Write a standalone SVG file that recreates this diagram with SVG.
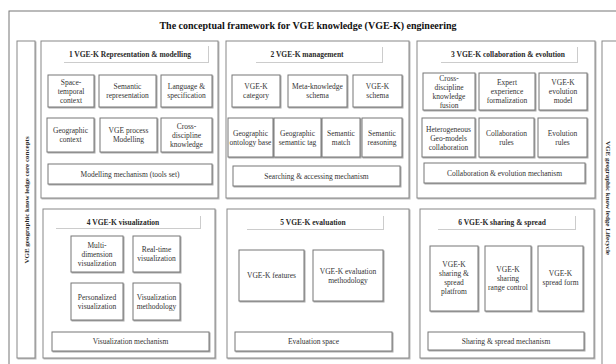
<svg xmlns="http://www.w3.org/2000/svg" width="616" height="364" viewBox="0 0 616 364">
<defs>
<style>
text{font-family:"Liberation Serif","Times New Roman",serif;fill:#2a2a2a;text-anchor:middle}
.t{font-size:10px;font-weight:bold;fill:#111}
.h{font-size:7.5px;font-weight:bold}
.b{font-size:7.5px;fill:#333}
.v{font-size:7px;font-weight:bold}
.frame{fill:none;stroke:#777;stroke-width:1}
.panel{fill:#fff;stroke:#888;stroke-width:1;filter:drop-shadow(1px 1px 0.6px #bbb)}
.box{fill:#fff;stroke:#777;stroke-width:1;filter:drop-shadow(1px 1px 0.6px #aaa)}
.hdr{fill:#fff;stroke:none;filter:drop-shadow(1px 1px 0.4px #ccc)}
</style>
</defs>
<rect x="0" y="0" width="616" height="364" fill="#fff"/>
<rect class="frame" x="9" y="11" width="640" height="380"/>
<text class="t" x="308" y="29">The conceptual framework for VGE knowledge (VGE-K) engineering</text>

<g id="core-concepts">
<rect class="panel" x="17" y="41" width="18" height="317"/>
<text class="v" transform="translate(28.5,200) rotate(-90)">VGE geographic know ledge  core concepts</text>
</g>
<g id="lifecycle">
<rect class="panel" x="602" y="41" width="30" height="330"/>
<text class="v" transform="translate(606,198) rotate(90)">VGE geographic know ledge  Lifecycle</text>
</g>

<g id="p1">
<rect class="panel" x="41" y="41" width="177" height="157"/>
<rect class="hdr" x="63" y="45" width="145" height="17"/>
<text class="h" x="130" y="57">1 VGE-K Representation &amp; modelling</text>
<g id="p1-space"><rect class="box" x="48" y="75" width="46" height="32"/><text class="b" x="71" y="84.6">Space-<tspan x="71" dy="9">temporal</tspan><tspan x="71" dy="9">context</tspan></text></g>
<g id="p1-sem"><rect class="box" x="99" y="75" width="57" height="32"/><text class="b" x="127.5" y="89.1">Semantic<tspan x="127.5" dy="9">representation</tspan></text></g>
<g id="p1-lang"><rect class="box" x="161" y="75" width="51" height="32"/><text class="b" x="186.5" y="89.1">Language &amp;<tspan x="186.5" dy="9">specification</tspan></text></g>
<g id="p1-geo"><rect class="box" x="47" y="118" width="47" height="34"/><text class="b" x="70.5" y="133.1">Geographic<tspan x="70.5" dy="9">context</tspan></text></g>
<g id="p1-proc"><rect class="box" x="100" y="118" width="57" height="34"/><text class="b" x="128.5" y="133.1">VGE process<tspan x="128.5" dy="9">Modelling</tspan></text></g>
<g id="p1-cross"><rect class="box" x="161" y="118" width="51" height="34"/><text class="b" x="186.5" y="128.6">Cross-<tspan x="186.5" dy="9">discipline</tspan><tspan x="186.5" dy="9">knowledge</tspan></text></g>
<g id="p1-mech"><rect class="box" x="48" y="164" width="164" height="20"/><text class="b" x="130" y="176.6">Modelling mechanism (tools set)</text></g>
</g>

<g id="p2">
<rect class="panel" x="226" y="41" width="183" height="157"/>
<rect class="hdr" x="255" y="46" width="127" height="16"/>
<text class="h" x="307" y="57">2 VGE-K management</text>
<g id="p2-cat"><rect class="box" x="232" y="75" width="48" height="32"/><text class="b" x="256" y="89.1">VGE-K<tspan x="256" dy="9">category</tspan></text></g>
<g id="p2-meta"><rect class="box" x="288" y="75" width="59" height="32"/><text class="b" x="317.5" y="89.1">Meta-knowledge<tspan x="317.5" dy="9">schema</tspan></text></g>
<g id="p2-schema"><rect class="box" x="353" y="75" width="49" height="32"/><text class="b" x="377.5" y="89.1">VGE-K<tspan x="377.5" dy="9">schema</tspan></text></g>
<g id="p2-onto"><rect class="box" x="228" y="118" width="45" height="39"/><text class="b" x="250.5" y="136.1">Geographic<tspan x="250.5" dy="9">ontology base</tspan></text></g>
<g id="p2-tag"><rect class="box" x="274" y="118" width="47" height="39"/><text class="b" x="297.5" y="136.1">Geographic<tspan x="297.5" dy="9">semantic tag</tspan></text></g>
<g id="p2-match"><rect class="box" x="322" y="118" width="38" height="39"/><text class="b" x="341" y="136.1">Semantic<tspan x="341" dy="9">match</tspan></text></g>
<g id="p2-reason"><rect class="box" x="362" y="118" width="40" height="39"/><text class="b" x="382" y="136.1">Semantic<tspan x="382" dy="9">reasoning</tspan></text></g>
<g id="p2-mech"><rect class="box" x="233" y="166" width="167" height="20"/><text class="b" x="316.5" y="178.6">Searching &amp; accessing mechanism</text></g>
</g>

<g id="p3">
<rect class="panel" x="417" y="41" width="178" height="157"/>
<rect class="hdr" x="440" y="46" width="137" height="16"/>
<text class="h" x="508" y="57">3 VGE-K collaboration &amp; evolution</text>
<g id="p3-fusion"><rect class="box" x="423" y="73" width="52" height="37"/><text class="b" x="449" y="80.6">Cross-<tspan x="449" dy="9">discipline</tspan><tspan x="449" dy="9">knowledge</tspan><tspan x="449" dy="9">fusion</tspan></text></g>
<g id="p3-expert"><rect class="box" x="479" y="73" width="56" height="37"/><text class="b" x="507" y="85.1">Expert<tspan x="507" dy="9">experience</tspan><tspan x="507" dy="9">formalization</tspan></text></g>
<g id="p3-evo"><rect class="box" x="539" y="73" width="48" height="37"/><text class="b" x="563" y="85.1">VGE-K<tspan x="563" dy="9">evolution</tspan><tspan x="563" dy="9">model</tspan></text></g>
<g id="p3-het"><rect class="box" x="422" y="118" width="53" height="39"/><text class="b" x="448.5" y="131.6">Heterogeneous<tspan x="448.5" dy="9">Geo-models</tspan><tspan x="448.5" dy="9">collaboration</tspan></text></g>
<g id="p3-collab"><rect class="box" x="479" y="118" width="55" height="39"/><text class="b" x="506.5" y="136.1">Collaboration<tspan x="506.5" dy="9">rules</tspan></text></g>
<g id="p3-evrules"><rect class="box" x="538" y="118" width="49" height="39"/><text class="b" x="562.5" y="136.1">Evolution<tspan x="562.5" dy="9">rules</tspan></text></g>
<g id="p3-mech"><rect class="box" x="424" y="163" width="161" height="20"/><text class="b" x="504.5" y="175.6">Collaboration &amp; evolution mechanism</text></g>
</g>

<g id="p4">
<rect class="panel" x="43" y="209" width="172" height="149"/>
<rect class="hdr" x="55" y="215" width="145" height="13"/>
<text class="h" x="123" y="224.5">4 VGE-K  visualization</text>
<g id="p4-multi"><rect class="box" x="71" y="236" width="52" height="36"/><text class="b" x="97" y="247.6">Multi-<tspan x="97" dy="9">dimension</tspan><tspan x="97" dy="9">visualization</tspan></text></g>
<g id="p4-real"><rect class="box" x="133" y="236" width="47" height="36"/><text class="b" x="156.5" y="252.1">Real-time<tspan x="156.5" dy="9">visualization</tspan></text></g>
<g id="p4-pers"><rect class="box" x="71" y="283" width="52" height="37"/><text class="b" x="97" y="299.6">Personalized<tspan x="97" dy="9">visualization</tspan></text></g>
<g id="p4-meth"><rect class="box" x="133" y="283" width="47" height="37"/><text class="b" x="156.5" y="299.6">Visualization<tspan x="156.5" dy="9">methodology</tspan></text></g>
<g id="p4-mech"><rect class="box" x="52" y="332" width="157" height="19"/><text class="b" x="130.5" y="344.1">Visualization mechanism</text></g>
</g>

<g id="p5">
<rect class="panel" x="227" y="209" width="182" height="149"/>
<rect class="hdr" x="246" y="215" width="137" height="14"/>
<text class="h" x="313" y="224.5">5 VGE-K  evaluation</text>
<g id="p5-feat"><rect class="box" x="239" y="250" width="65" height="51"/><text class="b" x="271.5" y="278.1">VGE-K features</text></g>
<g id="p5-meth"><rect class="box" x="313" y="250" width="70" height="51"/><text class="b" x="348" y="273.6">VGE-K evaluation<tspan x="348" dy="9">methodology</tspan></text></g>
<g id="p5-space"><rect class="box" x="235" y="332" width="157" height="19"/><text class="b" x="313.5" y="344.1">Evaluation space</text></g>
</g>

<g id="p6">
<rect class="panel" x="420" y="209" width="174" height="149"/>
<rect class="hdr" x="437" y="215" width="138" height="14"/>
<text class="h" x="502" y="224.5">6 VGE-K  sharing &amp; spread</text>
<g id="p6-plat"><rect class="box" x="430" y="246" width="48" height="65"/><text class="b" x="454" y="267.1">VGE-K<tspan x="454" dy="9">sharing &amp;</tspan><tspan x="454" dy="9">spread</tspan><tspan x="454" dy="9">platfrom</tspan></text></g>
<g id="p6-range"><rect class="box" x="485" y="246" width="46" height="65"/><text class="b" x="508" y="271.6">VGE-K<tspan x="508" dy="9">sharing</tspan><tspan x="508" dy="9">range control</tspan></text></g>
<g id="p6-form"><rect class="box" x="538" y="246" width="45" height="65"/><text class="b" x="560.5" y="276.1">VGE-K<tspan x="560.5" dy="9">spread form</tspan></text></g>
<g id="p6-mech"><rect class="box" x="428" y="332" width="156" height="18"/><text class="b" x="506" y="343.6">Sharing &amp; spread mechanism</text></g>
</g>
<g id="connectors"></g>
</svg>
